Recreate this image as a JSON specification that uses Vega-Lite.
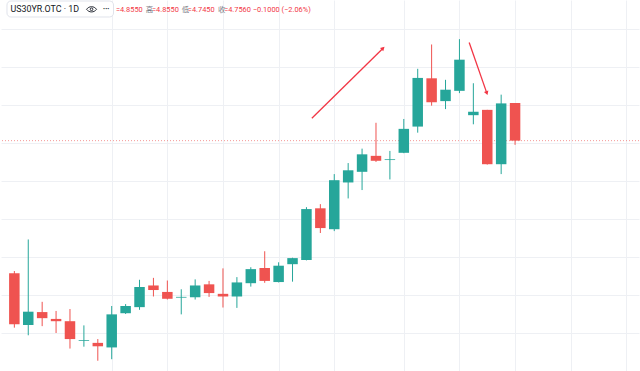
{
  "$schema": "https://vega.github.io/schema/vega-lite/v6.json",
  "width": 640,
  "height": 371,
  "autosize": {"type": "fit", "contains": "padding"},
  "padding": 0,
  "background": "#ffffff",
  "config": {
    "view": {"stroke": null},
    "font": "Roboto, 'Noto Sans CJK SC', sans-serif"
  },
  "datasets": {
    "candles": [
      {"i": 0, "open": 4.407, "high": 4.413, "low": 4.264, "close": 4.273},
      {"i": 1, "open": 4.271, "high": 4.496, "low": 4.244, "close": 4.306},
      {"i": 2, "open": 4.305, "high": 4.332, "low": 4.268, "close": 4.289},
      {"i": 3, "open": 4.287, "high": 4.308, "low": 4.250, "close": 4.281},
      {"i": 4, "open": 4.281, "high": 4.313, "low": 4.209, "close": 4.234},
      {"i": 5, "open": 4.229, "high": 4.270, "low": 4.214, "close": 4.231},
      {"i": 6, "open": 4.224, "high": 4.234, "low": 4.177, "close": 4.215},
      {"i": 7, "open": 4.212, "high": 4.321, "low": 4.181, "close": 4.299},
      {"i": 8, "open": 4.302, "high": 4.326, "low": 4.300, "close": 4.321},
      {"i": 9, "open": 4.318, "high": 4.390, "low": 4.311, "close": 4.371},
      {"i": 10, "open": 4.375, "high": 4.395, "low": 4.346, "close": 4.363},
      {"i": 11, "open": 4.358, "high": 4.388, "low": 4.338, "close": 4.340},
      {"i": 12, "open": 4.343, "high": 4.365, "low": 4.299, "close": 4.345},
      {"i": 13, "open": 4.344, "high": 4.391, "low": 4.338, "close": 4.375},
      {"i": 14, "open": 4.378, "high": 4.387, "low": 4.345, "close": 4.355},
      {"i": 15, "open": 4.353, "high": 4.420, "low": 4.317, "close": 4.346},
      {"i": 16, "open": 4.346, "high": 4.397, "low": 4.316, "close": 4.383},
      {"i": 17, "open": 4.381, "high": 4.423, "low": 4.372, "close": 4.418},
      {"i": 18, "open": 4.421, "high": 4.465, "low": 4.382, "close": 4.387},
      {"i": 19, "open": 4.384, "high": 4.436, "low": 4.383, "close": 4.427},
      {"i": 20, "open": 4.431, "high": 4.448, "low": 4.385, "close": 4.447},
      {"i": 21, "open": 4.442, "high": 4.581, "low": 4.441, "close": 4.576},
      {"i": 22, "open": 4.578, "high": 4.589, "low": 4.513, "close": 4.526},
      {"i": 23, "open": 4.523, "high": 4.668, "low": 4.518, "close": 4.652},
      {"i": 24, "open": 4.646, "high": 4.697, "low": 4.604, "close": 4.678},
      {"i": 25, "open": 4.674, "high": 4.735, "low": 4.626, "close": 4.720},
      {"i": 26, "open": 4.716, "high": 4.803, "low": 4.700, "close": 4.703},
      {"i": 27, "open": 4.705, "high": 4.729, "low": 4.654, "close": 4.707},
      {"i": 28, "open": 4.724, "high": 4.813, "low": 4.723, "close": 4.787},
      {"i": 29, "open": 4.793, "high": 4.945, "low": 4.777, "close": 4.921},
      {"i": 30, "open": 4.920, "high": 5.009, "low": 4.848, "close": 4.857},
      {"i": 31, "open": 4.860, "high": 4.916, "low": 4.839, "close": 4.890},
      {"i": 32, "open": 4.887, "high": 5.023, "low": 4.881, "close": 4.969},
      {"i": 33, "open": 4.823, "high": 4.907, "low": 4.799, "close": 4.832},
      {"i": 34, "open": 4.837, "high": 4.837, "low": 4.693, "close": 4.694},
      {"i": 35, "open": 4.694, "high": 4.877, "low": 4.668, "close": 4.854},
      {"i": 36, "open": 4.855, "high": 4.855, "low": 4.745, "close": 4.756}
    ],
    "arrows": [
      {"arrow": "up", "x1": 21.39, "p1": 4.815, "x2": 26.51, "p2": 4.999},
      {"arrow": "down", "x1": 32.70, "p1": 5.014, "x2": 33.97, "p2": 4.881}
    ],
    "box": [{"xa": -0.53, "xb": 7.13, "pa": 5.1234, "pb": 5.0813}],
    "icons": [
      {"kind": "eye", "xi": 5.55, "p": 5.1015},
      {"kind": "dots", "xi": 6.6, "p": 5.1015}
    ],
    "legend": [
      {"t": "=4.8550", "xi": 7.302, "part": "value"},
      {"t": "高", "xi": 9.453, "part": "label"},
      {"t": "=4.8550", "xi": 9.898, "part": "value"},
      {"t": "低", "xi": 12.028, "part": "label"},
      {"t": "=4.7450", "xi": 12.473, "part": "value"},
      {"t": "收", "xi": 14.638, "part": "label"},
      {"t": "=4.7560", "xi": 15.083, "part": "value"},
      {"t": "−0.1000 (−2.06%)", "xi": 17.143, "part": "value"}
    ]
  },
  "encoding": {
    "x": {"type": "quantitative", "scale": {"domain": [-0.6, 44.55], "nice": false, "zero": false}},
    "y": {"type": "quantitative", "scale": {"domain": [4.15, 5.126], "nice": false, "zero": false}}
  },
  "layer": [
    {
      "data": {"name": "candles"},
      "mark": {"type": "rule", "strokeWidth": 1},
      "encoding": {
        "x": {"field": "i", "type": "quantitative",
          "axis": {"values": [7, 11, 15, 19, 23, 28, 32, 36, 40, 44], "grid": true, "gridColor": "#eef0f4", "labels": false, "ticks": false, "domain": false, "title": null, "minExtent": 0, "maxExtent": 0}},
        "y": {"field": "low", "type": "quantitative",
          "axis": {"values": [4.15, 4.2, 4.25, 4.3, 4.35, 4.4, 4.45, 4.5, 4.55, 4.6, 4.65, 4.7, 4.75, 4.8, 4.85, 4.9, 4.95, 5.0, 5.05, 5.1], "grid": true, "gridColor": "#eef0f4", "labels": false, "ticks": false, "domain": false, "title": null, "minExtent": 0, "maxExtent": 0}},
        "y2": {"field": "high"},
        "color": {"condition": {"test": "datum.open < datum.close", "value": "#26a69a"}, "value": "#ef5350"}
      }
    },
    {
      "data": {"name": "candles"},
      "mark": {"type": "rule", "color": "#ef5350", "strokeDash": [1, 2], "strokeWidth": 1, "opacity": 0.6},
      "transform": [{"filter": "datum.i == 36"}],
      "encoding": {
        "y": {"field": "close", "type": "quantitative"}
      }
    },
    {
      "data": {"name": "candles"},
      "mark": {"type": "bar", "size": 10.5, "minBandSize": 1},
      "encoding": {
        "x": {"field": "i", "type": "quantitative"},
        "y": {"field": "open", "type": "quantitative"},
        "y2": {"field": "close"},
        "color": {"condition": {"test": "datum.open < datum.close", "value": "#26a69a"}, "value": "#ef5350"}
      }
    },
    {
      "data": {"name": "arrows"},
      "mark": {"type": "rule", "color": "#f23645", "strokeWidth": 1.3},
      "encoding": {
        "x": {"field": "x1", "type": "quantitative"},
        "y": {"field": "p1", "type": "quantitative"},
        "x2": {"field": "x2"},
        "y2": {"field": "p2"}
      }
    },
    {
      "data": {"name": "arrows"},
      "transform": [{"filter": "datum.arrow == 'up'"}],
      "mark": {"type": "point", "shape": "triangle-up", "filled": true, "color": "#f23645", "size": 22, "angle": 46, "opacity": 1},
      "encoding": {
        "x": {"field": "x2", "type": "quantitative"},
        "y": {"field": "p2", "type": "quantitative"}
      }
    },
    {
      "data": {"name": "arrows"},
      "transform": [{"filter": "datum.arrow == 'down'"}],
      "mark": {"type": "point", "shape": "triangle-up", "filled": true, "color": "#f23645", "size": 22, "angle": 160, "opacity": 1},
      "encoding": {
        "x": {"field": "x2", "type": "quantitative"},
        "y": {"field": "p2", "type": "quantitative"}
      }
    },
    {
      "data": {"name": "box"},
      "mark": {"type": "rect", "fill": "#ffffff", "stroke": "#e0e3eb", "strokeWidth": 1, "cornerRadius": 4},
      "encoding": {
        "x": {"field": "xa", "type": "quantitative"},
        "x2": {"field": "xb"},
        "y": {"field": "pa", "type": "quantitative"},
        "y2": {"field": "pb"}
      }
    },
    {
      "data": {"name": "box"},
      "mark": {"type": "text", "text": "US30YR.OTC · 1D", "align": "left", "baseline": "alphabetic", "fontSize": 8.9, "color": "#131722", "dx": 3.5},
      "encoding": {
        "x": {"field": "xa", "type": "quantitative"},
        "y": {"field": "pb", "type": "quantitative"},
        "yOffset": {"value": -4.6}
      }
    },
    {
      "data": {"name": "icons"},
      "transform": [{"filter": "datum.kind == 'eye'"}],
      "mark": {"type": "point", "shape": "M-1,0C-0.5,-0.7 0.5,-0.7 1,0C0.5,0.7 -0.5,0.7 -1,0Z", "filled": false, "stroke": "#131722", "strokeWidth": 0.9, "size": 100, "opacity": 1},
      "encoding": {
        "x": {"field": "xi", "type": "quantitative"},
        "y": {"field": "p", "type": "quantitative"}
      }
    },
    {
      "data": {"name": "icons"},
      "transform": [{"filter": "datum.kind == 'eye'"}],
      "mark": {"type": "point", "shape": "circle", "filled": false, "stroke": "#131722", "strokeWidth": 0.9, "size": 7, "opacity": 1},
      "encoding": {
        "x": {"field": "xi", "type": "quantitative"},
        "y": {"field": "p", "type": "quantitative"}
      }
    },
    {
      "data": {"name": "icons"},
      "transform": [{"filter": "datum.kind == 'dots'"}],
      "mark": {"type": "text", "text": "•••", "align": "center", "baseline": "middle", "fontSize": 6, "color": "#131722"},
      "encoding": {
        "x": {"field": "xi", "type": "quantitative"},
        "y": {"field": "p", "type": "quantitative"}
      }
    },
    {
      "data": {"name": "legend"},
      "mark": {"type": "text", "align": "left", "baseline": "alphabetic", "fontSize": 7.4},
      "encoding": {
        "x": {"field": "xi", "type": "quantitative"},
        "y": {"datum": 5.0936, "type": "quantitative"},
        "text": {"field": "t"},
        "color": {"field": "part", "type": "nominal", "scale": {"domain": ["label", "value"], "range": ["#787b86", "#f23645"]}, "legend": null}
      }
    }
  ]
}
